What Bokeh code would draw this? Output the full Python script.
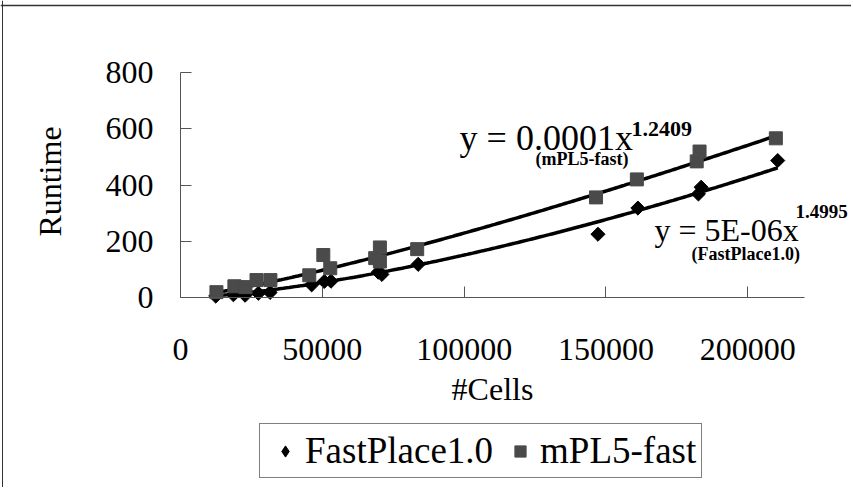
import numpy as np
from bokeh.plotting import figure
from bokeh.models import (Range1d, FixedTicker, Legend, LegendItem, Label, Span,
                          NumeralTickFormatter)
from bokeh.embed import file_html
from bokeh.resources import INLINE

# ---- data ----
fast_x = [12430, 18660, 22780, 27460, 31580, 46240, 50700, 53060, 69720, 71000,
          83800, 147180, 161260, 182600, 183560, 210560]
fast_y = [5, 10, 8, 15, 18, 45, 57, 58, 90, 82, 118, 225, 318, 368, 392, 487]

mpl_x = [12670, 19000, 22900, 26800, 31700, 45400, 50350, 52800, 68650, 70300, 70300,
         83450, 146500, 160900, 182000, 183000, 209900]
mpl_y = [19, 40, 37, 62, 62, 79, 151, 104, 140, 178, 128, 172, 356, 420, 484, 519, 566]

# power trend lines  y = a * x^b
trend_a = {"FastPlace1.0": 4.8e-6, "mPL5-fast": 1.43e-4}
trend_b = {"FastPlace1.0": 1.4995, "mPL5-fast": 1.2409}

x_max = 220000
y_max = 800
x_ticks = [0, 50000, 100000, 150000, 200000]
y_ticks = [0, 200, 400, 600, 800]

eq_main = ["y = 0.0001x", "y = 5E-06x"]
eq_sup = ["1.2409", "1.4995"]
eq_name = ["(mPL5-fast)", "(FastPlace1.0)"]
x_title = "#Cells"
y_title = "Runtime"
series_names = ["FastPlace1.0", "mPL5-fast"]

FONT = "Liberation Serif"

# ---- layout (pixels): the frame covers the whole canvas ----
W, H = 851, 487
AX_L, AX_W = 180, 624      # x axis from canvas px 180, 624 px long
AX_T, AX_H = 72, 225       # y axis from canvas px 72 (top), 225 px tall
ux = x_max / AX_W          # data units per pixel
uy = y_max / AX_H
x_rng = Range1d(-AX_L * ux, (W - AX_L) * ux)
y_rng = Range1d(-(H - AX_T - AX_H) * uy, y_max + AX_T * uy)

p = figure(width=W, height=H, output_backend="svg", toolbar_location=None,
           x_range=x_rng, y_range=y_rng,
           min_border_left=0, min_border_right=0, min_border_top=0,
           min_border_bottom=0)
p.outline_line_color = None
p.xgrid.visible = False
p.ygrid.visible = False
p.background_fill_color = "white"
p.border_fill_color = "white"

for ax in (p.xaxis[0], p.yaxis[0]):
    ax.fixed_location = 0
    ax.axis_line_color = "#555555"
    ax.major_tick_line_color = "#555555"
    ax.major_tick_in = 11
    ax.major_tick_out = 0
    ax.minor_tick_line_color = None
    ax.major_label_text_font = FONT
    ax.major_label_text_font_size = "32px"
    ax.major_label_text_color = "black"

p.xaxis.bounds = (0, x_max)
p.yaxis.bounds = (0, y_max)
p.xaxis.ticker = FixedTicker(ticks=x_ticks)
p.yaxis.ticker = FixedTicker(ticks=y_ticks)
p.xaxis.formatter = NumeralTickFormatter(format="0")
p.yaxis.formatter = NumeralTickFormatter(format="0")
p.xaxis.major_label_standoff = 41
p.yaxis.major_label_standoff = 27

# chart-area border (top and left edges)
p.add_layout(Span(location=y_max + (AX_T - 5) * uy, dimension="width",
                  line_color="#333333", line_width=1.5))
p.add_layout(Span(location=-(AX_L - 2) * ux, dimension="height",
                  line_color="#333333", line_width=1))

# trend lines
for name, xs in (("mPL5-fast", mpl_x), ("FastPlace1.0", fast_x)):
    tx = np.linspace(min(xs), max(xs), 200)
    ty = trend_a[name] * tx ** trend_b[name]
    p.line(tx, ty, line_color="black", line_width=3.5)

r_fast = p.scatter(fast_x, fast_y, marker="square", angle=np.pi / 4, size=10,
                   fill_color="black", line_color="black")
r_mpl = p.scatter(mpl_x, mpl_y, marker="square", size=13,
                  fill_color="#4a4a4a", line_color="#4a4a4a")
# legend swatch for the diamonds (same points, hidden; only its key is shown)
r_fast_key = p.scatter(fast_x, fast_y, marker="diamond", fill_color="black",
                       line_color="black", visible=False)


def lab(x, y, text, size, bold=False, baseline="alphabetic", align="left", angle=0):
    p.add_layout(Label(x=x, y=y, text=text, text_font=FONT, text_font_size=size,
                       text_font_style="bold" if bold else "normal",
                       text_color="black", text_baseline=baseline,
                       text_align=align, angle=angle))


# axis titles
lab(-131 * ux, 116 * uy, y_title, "32px", baseline="middle", align="center",
    angle=np.pi / 2)
lab(312 * ux, -91 * uy, x_title, "32px", baseline="middle", align="center")

# equations
lab(98400, 566, eq_main[0], "36px")
lab(159000, 598, eq_sup[0], "22px", bold=True)
lab(125200, 494, eq_name[0], "18px", bold=True, baseline="middle")
lab(167100, 239, eq_main[1], "32px")
lab(216800, 306, eq_sup[1], "19px", bold=True)
lab(180200, 153, eq_name[1], "18px", bold=True, baseline="middle")

legend = Legend(items=[LegendItem(label=series_names[0], renderers=[r_fast_key]),
                       LegendItem(label=series_names[1], renderers=[r_mpl])],
                orientation="horizontal", location=(259, 9),
                label_text_font=FONT, label_text_font_size="37px",
                label_text_color="black", background_fill_alpha=1,
                inactive_fill_alpha=0,
                border_line_color="black", border_line_width=1,
                glyph_width=40, glyph_height=28, spacing=7,
                padding=5, margin=0, label_standoff=0)
p.add_layout(legend, "center")

open("out.html", "w").write(file_html(p, INLINE))
